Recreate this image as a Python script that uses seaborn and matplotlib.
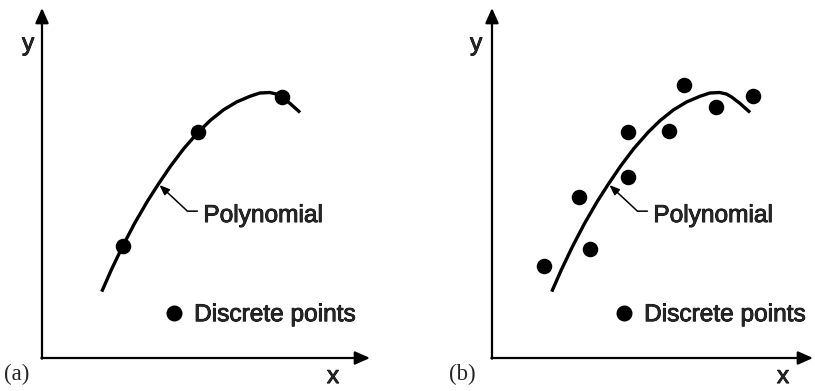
import matplotlib.pyplot as plt
import matplotlib.patheffects as pe
import seaborn as sns
from matplotlib.lines import Line2D

# =====================================
# Data (1 unit = 33 px, origin at the axes corner)
# =====================================
# fitted polynomial (same curve in both panels)
curve_x = [1.81, 2.10, 2.44, 2.80, 3.20, 3.52, 3.90, 4.30, 4.74, 5.10,
           5.50, 5.90, 6.30, 6.60, 6.90, 7.10, 7.26, 7.52, 7.82]
curve_y = [2.01, 2.67, 3.38, 4.07, 4.76, 5.26, 5.82, 6.35, 6.85, 7.20,
           7.52, 7.76, 7.93, 8.03, 8.045, 8.00, 7.91, 7.71, 7.44]

# (a) few exact points
pts_a_x = [2.44, 4.74, 7.27]
pts_a_y = [3.38, 6.84, 7.91]

# (b) many scattered points
pts_b_x = [1.58, 2.64, 2.97, 4.12, 4.12, 5.36, 5.82, 6.79, 7.91]
pts_b_y = [2.79, 4.88, 3.30, 6.85, 5.48, 6.88, 8.27, 7.61, 7.94]

panel_labels = ["(a)", "(b)"]
curve_label = "Polynomial"
points_label = "Discrete points"

sns.set_style("white")
plt.rcParams['font.family'] = ['Liberation Sans', 'DejaVu Sans']

FS = 17.6
heavy = [pe.withStroke(linewidth=0.6, foreground='black')]
W, H = 815, 391
fig = plt.figure(figsize=(W / 100, H / 100), dpi=100)

# axes corners / extents in pixels
layouts = [
    dict(left=42, width=328, ylab_x=-0.42, tag_x=-0.77),
    dict(left=492, width=321, ylab_x=-0.48, tag_x=-0.91),
]
bottom_px, height_px = 358, 350
scale = 33.0

panels = [(pts_a_x, pts_a_y), (pts_b_x, pts_b_y)]

for i, ((px, py), lay) in enumerate(zip(panels, layouts)):
    ax = fig.add_axes([lay["left"] / W, (H - bottom_px) / H,
                       lay["width"] / W, height_px / H])
    ax.set_xlim(0, lay["width"] / scale)
    ax.set_ylim(0, height_px / scale)
    ax.set_xticks([])
    ax.set_yticks([])
    sns.despine(ax=ax, left=True, bottom=True)
    ax.patch.set_alpha(0)

    # axes with arrow heads
    axis_arrow = dict(arrowstyle='-|>,head_length=0.45,head_width=0.2',
                      mutation_scale=20, lw=1.6, color='black',
                      shrinkA=0, shrinkB=0)
    ax.annotate('', xy=(1, 0), xytext=(-0.002, 0), xycoords='axes fraction',
                arrowprops=axis_arrow, annotation_clip=False)
    ax.annotate('', xy=(0, 1), xytext=(0, -0.002), xycoords='axes fraction',
                arrowprops=axis_arrow, annotation_clip=False)

    sns.lineplot(x=curve_x, y=curve_y, ax=ax, color='black', lw=2.4,
                 sort=False, estimator=None, solid_joinstyle='round',
                 solid_capstyle='butt')
    sns.scatterplot(x=px, y=py, ax=ax, color='black', s=125,
                    linewidth=0, legend=False, zorder=3)

    # "Polynomial" callout
    ax.text(4.89, 4.12, curve_label, ha='left', va='baseline', fontsize=FS,
            path_effects=heavy)
    ax.annotate('', xy=(3.56, 5.24), xytext=(4.71, 4.45),
                arrowprops=dict(arrowstyle='-|>,head_length=0.3,head_width=0.12',
                                mutation_scale=20, lw=1.1, color='black',
                                shrinkA=0, shrinkB=0,
                                connectionstyle='angle,angleA=0,angleB=-43,rad=0'))

    # legend
    handle = Line2D([], [], marker='o', ls='', color='black', markersize=10.5)
    leg = ax.legend(handles=[handle], labels=[points_label], loc='center left',
                    bbox_to_anchor=(3.63, 1.30), bbox_transform=ax.transData,
                    frameon=False, handlelength=1.0, handletextpad=0.32,
                    borderpad=0, borderaxespad=0, fontsize=FS)
    for t in leg.get_texts():
        t.set_path_effects(heavy)

    # axis names and panel tag
    ax.text(lay["ylab_x"], 9.32, "y", ha='center', va='baseline', fontsize=FS,
            path_effects=heavy)
    ax.text(8.82, -0.76, "x", ha='center', va='baseline', fontsize=FS,
            path_effects=heavy)
    ax.text(lay["tag_x"], -0.67, panel_labels[i], ha='center', va='baseline',
            fontsize=16.5, family=['Liberation Serif', 'DejaVu Serif'])

fig.savefig("out.png", dpi=100)
plt.close(fig)
